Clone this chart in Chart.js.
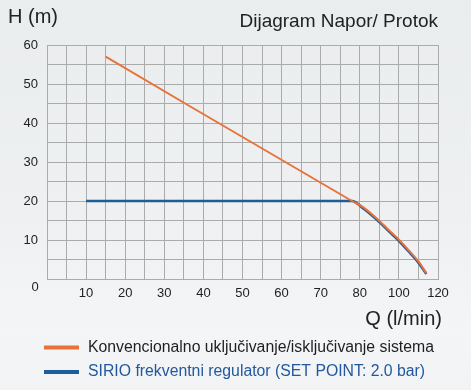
<!DOCTYPE html>
<html>
<head>
<meta charset="utf-8">
<script src="https://cdn.jsdelivr.net/npm/chart.js"></script>
<style>
  html, body { margin: 0; padding: 0; }
  body {
    width: 471px; height: 390px; overflow: hidden;
    background: linear-gradient(to bottom, #EAEDED 0%, #EEF0F1 55%, #F3F5F6 85%, #F1F3F4 100%);
  }
  #chart { display: block; }
</style>
</head>
<body>
<canvas id="chart" width="471" height="390"></canvas>
<script>
// x positions are in grid units (each 5 units = one grid column, 0..100)
const qTickLabels = ["10", "20", "30", "40", "50", "60", "70", "80", "100", "120"];
const hTickLabels = ["10", "20", "30", "40", "50", "60"];

const qConventional = [15, 78, 81, 85, 88, 90, 93, 95, 97];
const hConventional = [57, 20, 18.3, 14.9, 12.0, 10.1, 6.8, 4.5, 1.5];

const qSirio = [10, 78, 81, 85, 88, 90, 93, 95, 97];
const hSirio = [20, 20, 18.0, 14.6, 11.7, 9.8, 6.5, 4.2, 1.3];

const seriesNames = [
  "Konvencionalno uključivanje/isključivanje sistema",
  "SIRIO frekventni regulator (SET POINT: 2.0 bar)"
];

const orange = "#E8733A";
const blue = "#1E5C9A";
const gridColor = "#ABABAB";
const font = "'Liberation Sans', Arial, sans-serif";

function points(xs, ys) {
  return xs.map((x, i) => ({ x: x, y: ys[i] }));
}

const textPlugin = {
  id: "texts",
  afterDraw(chart) {
    const c = chart.ctx;
    c.save();
    c.fillStyle = "#222222";
    c.textBaseline = "alphabetic";
    c.textAlign = "left";
    c.font = "20px " + font;
    c.fillText("H (m)", 8, 23);

    c.textAlign = "right";
    c.font = "19px " + font;
    c.fillText("Dijagram Napor/ Protok", 438, 27);

    c.font = "20px " + font;
    c.fillText("Q (l/min)", 442, 325);

    c.textAlign = "center";
    c.textBaseline = "middle";
    c.font = "13px " + font;
    c.fillText("0", 35, 287);

    // legend
    const rows = [[orange, "#1F1F1F", 347.5], [blue, "#23589E", 372]];
    c.textAlign = "left";
    c.font = "15.8px " + font;
    rows.forEach((r, i) => {
      c.fillStyle = r[0];
      c.fillRect(44, r[2] - 2, 35, 4);
      c.fillStyle = r[1];
      c.fillText(seriesNames[i], 88, r[2]);
    });
    c.restore();
  }
};

const ctx = document.getElementById("chart");

new Chart(ctx, {
  type: "scatter",
  data: {
    datasets: [
      {
        label: seriesNames[1],
        data: points(qSirio, hSirio),
        showLine: true,
        borderColor: blue,
        borderWidth: 2.6,
        pointRadius: 0,
        cubicInterpolationMode: "monotone",
        order: 2
      },
      {
        label: seriesNames[0],
        data: points(qConventional, hConventional),
        showLine: true,
        borderColor: orange,
        borderWidth: 2,
        pointRadius: 0,
        cubicInterpolationMode: "monotone",
        order: 1
      }
    ]
  },
  options: {
    responsive: false,
    animation: false,
    devicePixelRatio: 1,
    layout: { padding: { left: 0, right: 33, top: 45, bottom: 91 } },
    plugins: {
      legend: { display: false },
      tooltip: { enabled: false }
    },
    scales: {
      x: {
        type: "linear",
        min: 0,
        max: 100,
        afterFit(scale) { scale.height = 20; },
        border: { color: gridColor, width: 1 },
        grid: { color: gridColor, lineWidth: 1, drawTicks: false },
        ticks: {
          stepSize: 5,
          autoSkip: false,
          maxRotation: 0,
          padding: 7,
          color: "#222222",
          font: { size: 13, family: font },
          callback: (v) => (v % 10 === 0 && v > 0 ? qTickLabels[v / 10 - 1] : "")
        }
      },
      y: {
        min: 0,
        max: 60,
        afterFit(scale) { scale.width = 47; },
        border: { color: gridColor, width: 1 },
        grid: { color: gridColor, lineWidth: 1, drawTicks: false },
        ticks: {
          stepSize: 5,
          autoSkip: false,
          padding: 9,
          color: "#222222",
          font: { size: 13, family: font },
          callback: (v) => (v % 10 === 0 && v > 0 ? hTickLabels[v / 10 - 1] : "")
        }
      }
    }
  },
  plugins: [textPlugin]
});
</script>
</body>
</html>
